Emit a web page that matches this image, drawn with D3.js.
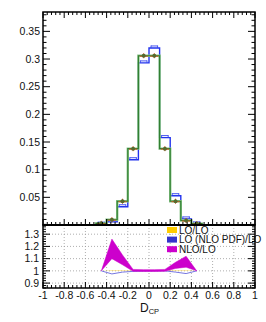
<!DOCTYPE html>
<html>
<head>
<meta charset="utf-8">
<script src="https://cdn.jsdelivr.net/npm/d3@7"></script>
<style>
  body { margin: 0; background: #fff; }
  text { font-family: "Liberation Sans", Arial, sans-serif; }
</style>
</head>
<body>
<div id="chart"></div>
<script>
// bins and values
const binLo = [-0.5, -0.4, -0.3, -0.2, -0.1, 0.0, 0.1, 0.2, 0.3, 0.4];
const binHi = [-0.4, -0.3, -0.2, -0.1, 0.0, 0.1, 0.2, 0.3, 0.4, 0.5];
const binMid = [-0.45, -0.35, -0.25, -0.15, -0.05, 0.05, 0.15, 0.25, 0.35, 0.45];
const greenVals = [0.003, 0.0095, 0.043, 0.138, 0.306, 0.306, 0.138, 0.043, 0.008, 0.0025];
const blueVals = [0.0015, 0.0056, 0.033, 0.118, 0.293, 0.320, 0.158, 0.053, 0.011, 0.002];

// ratio bands
const yellowUp = [1.0, 1.006, 1.005, 1.003, 1.002, 1.002, 1.003, 1.005, 1.006, 1.0];
const yellowLo = [1.0, 0.998, 0.998, 0.999, 0.999, 0.999, 0.999, 0.998, 0.998, 1.0];
const blueRatio = [1.0, 0.975, 0.99, 0.996, 0.999, 1.0, 1.0, 0.99, 0.978, 1.0];
const magentaUp = [1.0, 1.26, 1.13, 1.012, 1.01, 1.01, 1.012, 1.07, 1.12, 1.0];
const magentaLo = [1.0, 1.10, 1.05, 0.996, 0.995, 0.995, 0.996, 1.02, 1.03, 1.0];

const xTicks = [-1, -0.8, -0.6, -0.4, -0.2, 0, 0.2, 0.4, 0.6, 0.8, 1];
const yTicksTop = [0.05, 0.1, 0.15, 0.2, 0.25, 0.3, 0.35];
const yTicksBot = [0.9, 1, 1.1, 1.2, 1.3];

const legendNames = ["LO/LO", "LO (NLO PDF)/LO", "NLO/LO"];
const legendColors = ["#ffcc00", "#3333cc", "#cc00cc"];

const W = 266, H = 322;
const padL = 43, padR = 255, padT = 12, split = 225, padB = 288;

const svg = d3.select("#chart").append("svg")
  .attr("width", W).attr("height", H);

const x = d3.scaleLinear().domain([-1, 1]).range([padL, padR]);
const yTop = d3.scaleLinear().domain([0, 0.385]).range([split, padT]);
const yBot = d3.scaleLinear().domain([0.86, 1.375]).range([padB, split]);

// ---------- bottom panel grid ----------
const grid = svg.append("g").attr("stroke", "#999").attr("stroke-dasharray", "1,2").attr("stroke-width", 0.8);
xTicks.slice(1, -1).forEach(t => {
  grid.append("line").attr("x1", x(t)).attr("x2", x(t)).attr("y1", split).attr("y2", padB);
});
yTicksBot.forEach(t => {
  grid.append("line").attr("x1", padL).attr("x2", padR).attr("y1", yBot(t)).attr("y2", yBot(t));
});

// ---------- ratio bands ----------
const ratioIdx = d3.range(binMid.length);
const band = (up, lo) => d3.area()
  .x(i => x(binMid[i]))
  .y0(i => yBot(lo[i]))
  .y1(i => yBot(up[i]));

svg.append("path").datum(ratioIdx)
  .attr("fill", "#ffd54a").attr("opacity", 0.6)
  .attr("d", band(yellowUp, yellowLo));

svg.append("path").datum(ratioIdx)
  .attr("fill", "none").attr("stroke", "#6666dd").attr("stroke-width", 0.9)
  .attr("d", d3.line().x(i => x(binMid[i])).y(i => yBot(blueRatio[i])));

svg.append("path").datum(ratioIdx)
  .attr("fill", "#cc00cc").attr("stroke", "#cc00cc").attr("stroke-width", 0.5)
  .attr("d", band(magentaUp, magentaLo));

// ---------- top panel histograms ----------
function stepPath(vals) {
  const p = d3.path();
  p.moveTo(x(binLo[0]), yTop(0));
  vals.forEach((v, i) => {
    p.lineTo(x(binLo[i]), yTop(v));
    p.lineTo(x(binHi[i]), yTop(v));
  });
  p.lineTo(x(binHi[binHi.length - 1]), yTop(0));
  return p.toString();
}

// blue histogram with error caps
svg.append("path")
  .attr("fill", "none").attr("stroke", "#2233ee").attr("stroke-width", 1.4)
  .attr("d", stepPath(blueVals));

const bErr = svg.append("g").attr("stroke", "#3344ee").attr("stroke-width", 0.9);
blueVals.forEach((v, i) => {
  const x0 = x(binLo[i]) + 2, x1 = x(binHi[i]) - 2, cy = yTop(v);
  bErr.append("line").attr("x1", x0).attr("x2", x1).attr("y1", cy - 2).attr("y2", cy - 2);
  bErr.append("line").attr("x1", x0).attr("x2", x0).attr("y1", cy - 2.5).attr("y2", cy);
  bErr.append("line").attr("x1", x1).attr("x2", x1).attr("y1", cy - 2.5).attr("y2", cy);
});

// green histograms
svg.append("path")
  .attr("fill", "none").attr("stroke", "#88c488").attr("stroke-width", 2.4)
  .attr("d", stepPath(greenVals));
svg.append("path")
  .attr("fill", "none").attr("stroke", "#2f7d2f").attr("stroke-width", 1.1)
  .attr("d", stepPath(greenVals));

// red error bars and olive markers
const mk = svg.append("g");
greenVals.forEach((v, i) => {
  const cx = x(binMid[i]), cy = yTop(v);
  mk.append("line").attr("x1", cx - 4).attr("x2", cx + 4).attr("y1", cy + 0.5).attr("y2", cy + 0.5)
    .attr("stroke", "#dd5522").attr("stroke-width", 1);
  mk.append("line").attr("x1", cx).attr("x2", cx).attr("y1", cy - 2.5).attr("y2", cy + 2.5)
    .attr("stroke", "#dd5522").attr("stroke-width", 1);
  mk.append("circle").attr("cx", cx).attr("cy", cy).attr("r", 2)
    .attr("fill", "#556b2f");
});

// ---------- axes / frames ----------
const ax = svg.append("g").attr("stroke", "#000");

function xTicksAt(yPos, dir) {
  for (let k = 0; k <= 50; k++) {
    const t = -1 + k * 0.04;
    const len = (k % 5 === 0) ? 6 : 3;
    ax.append("line").attr("x1", x(t)).attr("x2", x(t))
      .attr("y1", yPos).attr("y2", yPos + dir * len).attr("stroke-width", 1);
  }
}
xTicksAt(padT, 1);
xTicksAt(split, -1);
xTicksAt(padB, -1);

// y ticks top panel
for (let k = 1; k <= 38; k++) {
  const t = k * 0.01;
  const len = (k % 5 === 0) ? 7 : 3.5;
  const yy = yTop(t);
  ax.append("line").attr("x1", padL).attr("x2", padL + len).attr("y1", yy).attr("y2", yy).attr("stroke-width", 1);
  ax.append("line").attr("x1", padR).attr("x2", padR - len).attr("y1", yy).attr("y2", yy).attr("stroke-width", 1);
}
// y ticks bottom panel
for (let k = 0; k <= 26; k++) {
  const t = 0.86 + k * 0.02;
  const major = Math.abs((t * 10) - Math.round(t * 10)) < 1e-6;
  const len = major ? 7 : 3;
  const yy = yBot(t);
  ax.append("line").attr("x1", padL).attr("x2", padL + len).attr("y1", yy).attr("y2", yy).attr("stroke-width", 1);
  ax.append("line").attr("x1", padR).attr("x2", padR - len).attr("y1", yy).attr("y2", yy).attr("stroke-width", 1);
}

ax.append("rect").attr("x", padL).attr("y", padT).attr("width", padR - padL).attr("height", split - padT)
  .attr("fill", "none").attr("stroke-width", 1.5);
ax.append("rect").attr("x", padL).attr("y", split).attr("width", padR - padL).attr("height", padB - split)
  .attr("fill", "none").attr("stroke-width", 1.5);
ax.append("line").attr("x1", padL).attr("x2", padR).attr("y1", split).attr("y2", split).attr("stroke-width", 2);

// ---------- labels ----------
const lab = svg.append("g").attr("font-size", 10.5).attr("fill", "#111");
yTicksTop.forEach(t => {
  lab.append("text").attr("x", padL - 3).attr("y", yTop(t)).attr("dy", "0.35em")
    .attr("text-anchor", "end").text(+t.toFixed(2));
});
yTicksBot.forEach(t => {
  lab.append("text").attr("x", padL - 4).attr("y", yBot(t)).attr("dy", "0.35em")
    .attr("text-anchor", "end").text(+t.toFixed(1));
});
xTicks.forEach(t => {
  lab.append("text").attr("x", x(t)).attr("y", padB + 10.5)
    .attr("text-anchor", "middle").text(String(+t.toFixed(1)));
});

const xl = svg.append("text").attr("x", 140).attr("y", 312).attr("font-size", 12).attr("fill", "#111");
xl.append("tspan").text("D");
xl.append("tspan").attr("font-size", 7.5).attr("dy", 2).text("CP");

// ---------- legend ----------
const leg = svg.append("g");
legendNames.forEach((n, i) => {
  const ly = 230 + i * 9.6;
  leg.append("rect").attr("x", 167).attr("y", ly - 3).attr("width", 10).attr("height", 6)
    .attr("fill", legendColors[i]);
  leg.append("text").attr("x", 179).attr("y", ly).attr("dy", "0.35em")
    .attr("font-size", 10).attr("fill", "#111").text(n);
});
</script>
</body>
</html>
